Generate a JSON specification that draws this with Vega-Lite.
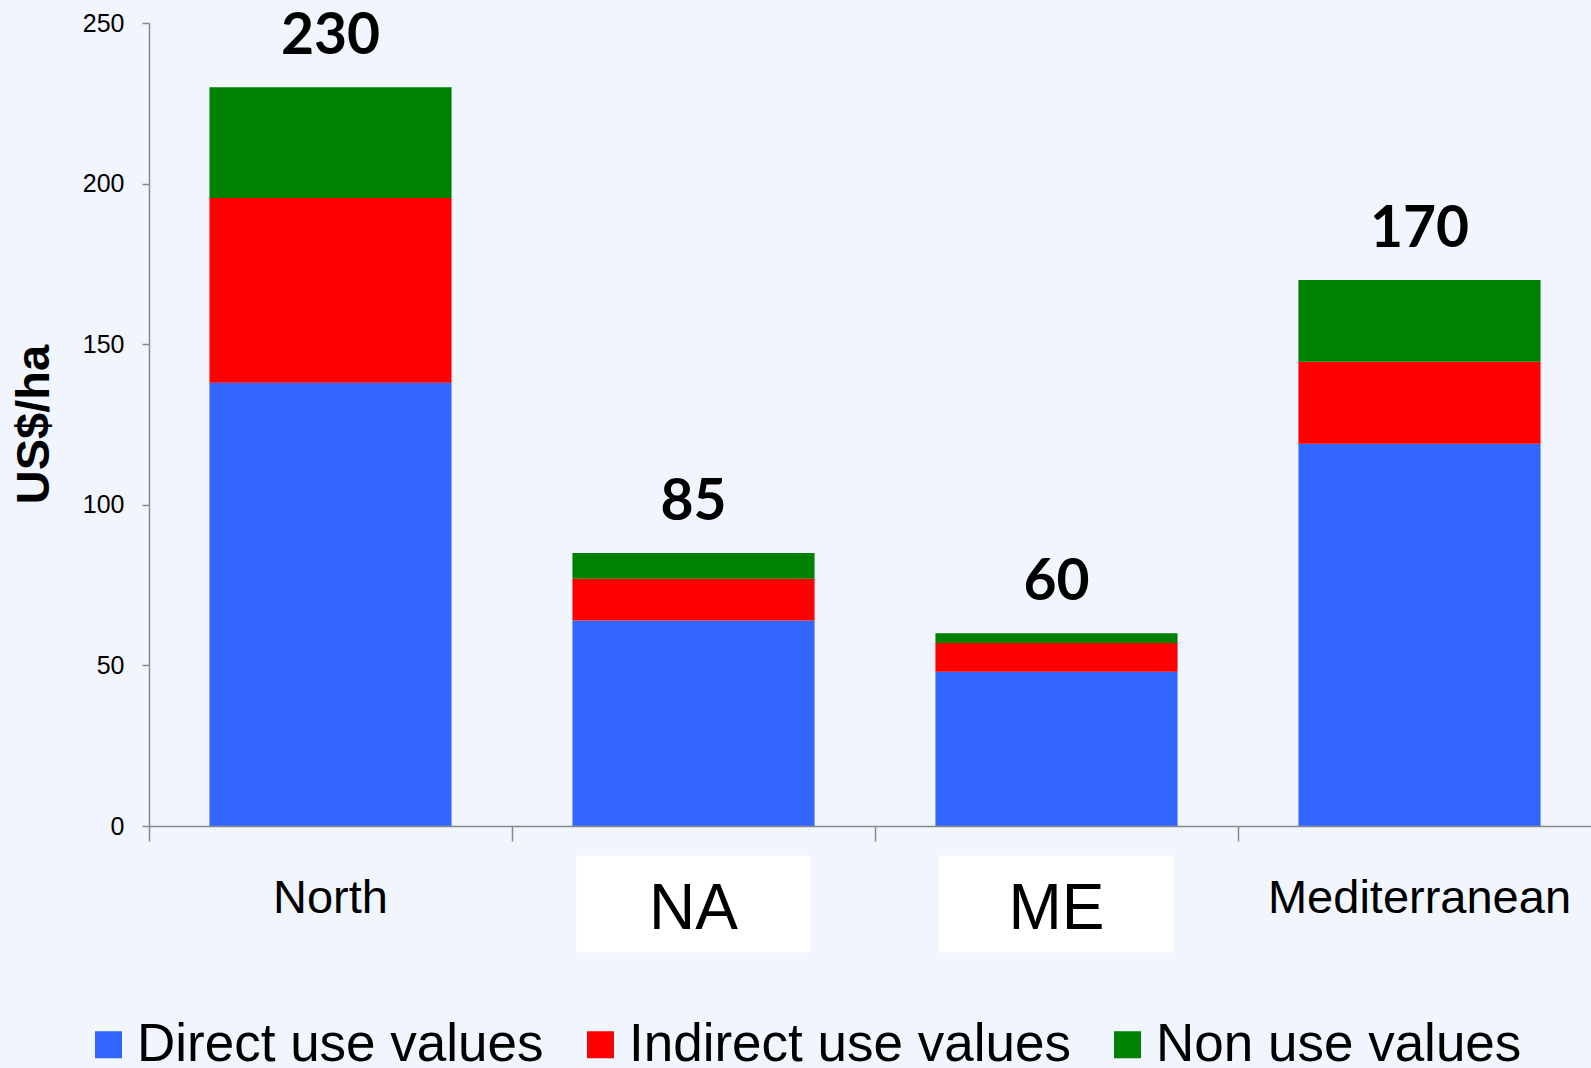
{
  "$schema": "https://vega.github.io/schema/vega-lite/v6.json",
  "autosize": "none",
  "width": 1442,
  "height": 803,
  "padding": {"left": 149, "top": 23, "right": 0, "bottom": 242},
  "background": "#f0f5fe",
  "config": {
    "view": {"stroke": null},
    "font": "Liberation Sans"
  },
  "data": {
    "values": [
      {"region": "North", "component": "Direct use values", "value": 138},
      {"region": "North", "component": "Indirect use values", "value": 57.5},
      {"region": "North", "component": "Non use values", "value": 34.5},
      {"region": "NA", "component": "Direct use values", "value": 64},
      {"region": "NA", "component": "Indirect use values", "value": 13},
      {"region": "NA", "component": "Non use values", "value": 8},
      {"region": "ME", "component": "Direct use values", "value": 48},
      {"region": "ME", "component": "Indirect use values", "value": 9},
      {"region": "ME", "component": "Non use values", "value": 3},
      {"region": "Mediterranean", "component": "Direct use values", "value": 119},
      {"region": "Mediterranean", "component": "Indirect use values", "value": 25.5},
      {"region": "Mediterranean", "component": "Non use values", "value": 25.5}
    ]
  },
  "encoding": {
    "x": {
      "field": "region",
      "type": "nominal",
      "sort": ["North", "NA", "ME", "Mediterranean"],
      "scale": {"range": [0, 1452], "paddingInner": 0, "paddingOuter": 0},
      "axis": {
        "title": null,
        "zindex": 1,
        "labelAngle": 0,
        "bandPosition": 0,
        "tickSize": 15,
        "tickColor": "#888888",
        "tickWidth": 1.5,
        "domainColor": "#888888",
        "domainWidth": 1.5,
        "labelColor": "#000000",
        "labelFont": "Liberation Sans",
        "labelBaseline": "alphabetic",
        "labelFontSize": {"condition": {"test": "datum.value === 'NA' || datum.value === 'ME'", "value": 64}, "value": 47},
        "labelPadding": {"condition": {"test": "datum.value === 'NA' || datum.value === 'ME'", "value": 87}, "value": 71},
        "labelLimit": 1000
      }
    }
  },
  "layer": [
    {
      "transform": [{"filter": "(datum.region === 'NA' || datum.region === 'ME') && datum.component === 'Direct use values'"}],
      "mark": {"type": "bar", "color": "#ffffff", "width": {"band": 0.645}},
      "encoding": {
        "y": {"datum": -9.2, "type": "quantitative", "scale": {"domain": [0, 250], "nice": false}},
        "y2": {"datum": -39.4}
      }
    },
    {
      "mark": {"type": "bar", "width": {"band": 0.667}},
      "encoding": {
        "y": {
          "field": "value",
          "type": "quantitative",
          "stack": "zero",
          "scale": {"domain": [0, 250], "nice": false},
          "axis": {
            "values": [0, 50, 100, 150, 200, 250],
            "grid": false,
            "tickSize": 7,
            "tickColor": "#888888",
            "tickWidth": 1.5,
            "domainColor": "#888888",
            "domainWidth": 1.5,
            "labelColor": "#000000",
            "labelFont": "Liberation Sans",
            "labelFontSize": 25,
            "labelPadding": 18,
            "title": "US$/ha",
            "titleFont": "Liberation Sans",
            "titleFontSize": 47,
            "titleFontWeight": "bold",
            "titleColor": "#000000",
            "titleAngle": -90,
            "titleAlign": "center",
            "titleBaseline": "middle",
            "titleX": -115,
            "titleY": 401
          }
        },
        "order": {"field": "component", "sort": "ascending"},
        "color": {
          "field": "component",
          "type": "nominal",
          "scale": {
            "domain": ["Direct use values", "Indirect use values", "Non use values"],
            "range": ["#3366ff", "#ff0000", "#008000"]
          },
          "legend": {
            "title": null,
            "orient": "none",
            "direction": "horizontal",
            "legendX": -67,
            "legendY": 995,
            "padding": 0,
            "symbolType": "square",
            "symbolSize": 729,
            "symbolStrokeWidth": 0,
            "symbolOpacity": 1,
            "labelFont": "Liberation Sans",
            "labelFontSize": 53,
            "labelColor": "#000000",
            "labelOffset": 2,
            "labelLimit": 1000,
            "columnPadding": 30
          }
        }
      }
    },
    {
      "mark": {"type": "text", "baseline": "alphabetic", "dy": -33, "font": "Lato", "fontWeight": "bold", "fontSize": 57, "color": "#000000"},
      "encoding": {
        "y": {"aggregate": "sum", "field": "value", "type": "quantitative"},
        "text": {"aggregate": "sum", "field": "value", "type": "quantitative"}
      }
    }
  ]
}
